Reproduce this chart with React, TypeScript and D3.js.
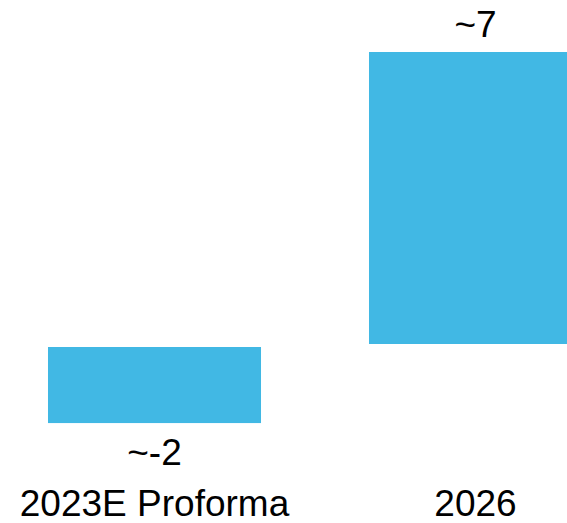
import React from "react";
import * as d3 from "d3";

const categories = ["2023E Proforma", "2026"];
const values = [-1.85, 7];
const valueLabels = ["~-2", "~7"];

const W = 567;
const H = 523;

export default function App() {
  const x = d3
    .scaleBand<string>()
    .domain(categories)
    .range([-6, 636])
    .paddingInner(0.3364)
    .paddingOuter(0.1682);
  const y = d3.scaleLinear().domain([0, 7]).range([345.5, 52]);
  const font = "'Liberation Sans', Arial, sans-serif";
  return (
    <svg
      width={W}
      height={H}
      style={{ position: "absolute", left: 0, top: 0, display: "block" }}
      fontFamily={font}
    >
      <rect width={W} height={H} fill="#fff" />
      {categories.map((c, i) => {
        const v = values[i];
        const x0 = x(c)!;
        const bw = x.bandwidth();
        const top = v >= 0 ? y(v) : y(0) + 1.5;
        const bottom = v >= 0 ? y(0) - 1.5 : y(v);
        const cx = x0 + bw / 2;
        return (
          <g key={c}>
            <rect x={x0} y={top} width={bw} height={bottom - top} fill="#41B8E4" />
            <text
              x={cx}
              y={v >= 0 ? top - 15 : bottom + 42}
              textAnchor="middle"
              fontSize={37}
              fill="#000"
            >
              {valueLabels[i]}
            </text>
            <text x={cx} y={516} textAnchor="middle" fontSize={37} fill="#000">
              {c}
            </text>
          </g>
        );
      })}
    </svg>
  );
}
